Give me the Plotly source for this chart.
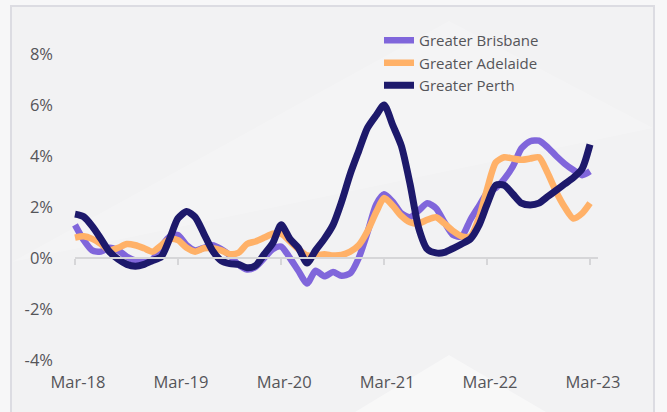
import pandas as pd
import plotly.graph_objects as go

# ---- data (monthly annual-ish growth %, Mar-18 .. Mar-23) ----
months = pd.date_range("2018-03-01", periods=61, freq="MS")

brisbane = [1.3, 0.7, 0.3, 0.25, 0.4, 0.3, 0.05, -0.1, -0.15, -0.05,
            0.45, 0.85, 0.9, 0.5, 0.3, 0.4, 0.5, 0.35, 0.1, -0.25,
            -0.45, -0.35, 0.0, 0.35, 0.45, 0.0, -0.5, -1.0, -0.5, -0.72,
            -0.55, -0.7, -0.6, 0.0, 1.0, 2.1, 2.5, 2.2, 1.75, 1.6,
            1.85, 2.15, 1.95, 1.4, 0.9, 0.85, 1.5, 2.05, 2.55, 2.75,
            3.1, 3.6, 4.3, 4.58, 4.6, 4.35, 4.0, 3.7, 3.45, 3.25, 3.4]

adelaide = [0.8, 0.85, 0.75, 0.55, 0.3, 0.4, 0.55, 0.5, 0.38, 0.25,
            0.5, 0.75, 0.7, 0.4, 0.25, 0.38, 0.38, 0.3, 0.15, 0.2,
            0.55, 0.65, 0.8, 0.95, 0.95, 0.65, 0.35, 0.1, 0.1, 0.15,
            0.1, 0.12, 0.25, 0.5, 1.05, 1.8, 2.35, 2.05, 1.65, 1.4,
            1.35, 1.5, 1.6, 1.35, 1.05, 0.85, 0.85, 1.6, 2.7, 3.75,
            3.95, 3.9, 3.85, 3.9, 3.95, 3.35, 2.6, 2.0, 1.55, 1.75, 2.15]

perth = [1.72, 1.62, 1.25, 0.75, 0.25, -0.05, -0.25, -0.32, -0.25, -0.1,
         0.05, 0.8, 1.55, 1.82, 1.6, 0.95, 0.3, -0.1, -0.22, -0.25,
         -0.38, -0.3, 0.15, 0.6, 1.3, 0.75, 0.4, -0.2, 0.3, 0.75,
         1.3, 2.2, 3.3, 4.2, 5.1, 5.6, 6.0, 5.2, 4.4, 2.9,
         1.2, 0.35, 0.2, 0.22, 0.38, 0.55, 0.75, 1.3, 2.1, 2.85,
         2.85, 2.5, 2.15, 2.08, 2.15, 2.4, 2.65, 2.9, 3.15, 3.5, 4.45]

series_names = ["Greater Brisbane", "Greater Adelaide", "Greater Perth"]

x_tick_dates = ["2018-03-01", "2019-03-01", "2020-03-01",
                "2021-03-01", "2022-03-01", "2023-03-01"]
x_tick_labels = ["Mar-18", "Mar-19", "Mar-20", "Mar-21", "Mar-22", "Mar-23"]
y_tick_vals = [-4, -2, 0, 2, 4, 6, 8]
y_tick_labels = ["-4%", "-2%", "0%", "2%", "4%", "6%", "8%"]

# ---- styling / geometry ----
colors = ["#8066db", "#ffb168", "#1d196b"]
widths = [6.5, 6.5, 7]
FONT = "Open Sans"
TXT = "#555559"

W, H = 667, 412
L, R = 60, 615          # plot area pixel edges
T, B = 40, 370
px_x0, px_x1 = 75, 590  # Mar-18 / Mar-23 pixel positions
axis_end_px = 598

t0 = pd.Timestamp(x_tick_dates[0])
t1 = pd.Timestamp(x_tick_dates[-1])
mpp = (t1 - t0) / (px_x1 - px_x0)
xr = [t0 - (px_x0 - L) * mpp, t1 + (R - px_x1) * mpp]
x2r = [t0, t0 + (axis_end_px - px_x0) * mpp]

ppu = 25.5
ymax = 8 + (54 - T) / ppu
ymin = ymax - (B - T) / ppu
zero_pos = (0 - ymin) / (ymax - ymin)


def px(xp):
    return (xp - L) / (R - L)


def py(yp):
    return (B - yp) / (B - T)


fig = go.Figure()
for name, vals, c, w in zip(series_names, [brisbane, adelaide, perth], colors, widths):
    fig.add_trace(go.Scatter(
        x=months, y=vals, name=name, mode="lines",
        line=dict(color=c, width=w, shape="spline", smoothing=0.7),
        legendgroup=name,
    ))

# dummy trace so the zero-crossing axis is drawn
fig.add_trace(go.Scatter(x=[months[0]], y=[None], xaxis="x2", yaxis="y",
                         showlegend=False, hoverinfo="skip", mode="lines"))

# background panel and faint decorative triangles
shapes = [
    dict(type="rect", xref="paper", yref="paper",
         x0=px(11), x1=px(654), y0=py(420), y1=py(6),
         fillcolor="#f2f2f3", line=dict(color="#dcdce2", width=2), layer="below"),
    dict(type="path", xref="paper", yref="paper",
         path="M {a},{b} L {c},{d} L {e},{f} Z".format(
             a=px(449), b=py(21), c=px(12), d=py(262), e=px(653), f=py(128)),
         fillcolor="rgba(255,255,255,0.2)", line=dict(width=0), layer="below"),
    dict(type="path", xref="paper", yref="paper",
         path="M {a},{b} L {c},{d} L {e},{f} Z".format(
             a=px(449), b=py(355), c=px(355), d=py(412), e=px(546), f=py(412)),
         fillcolor="rgba(255,255,255,0.45)", line=dict(width=0), layer="below"),
]

fig.update_layout(
    width=W, height=H,
    margin=dict(l=L, r=W - R, t=T, b=H - B),
    paper_bgcolor="#f7f7f8",
    plot_bgcolor="rgba(0,0,0,0)",
    font=dict(family=FONT, color=TXT),
    shapes=shapes,
    showlegend=True,
    legend=dict(
        x=px(379), xanchor="left",
        y=py(24), yanchor="top",
        bgcolor="rgba(0,0,0,0)",
        font=dict(size=15, color=TXT, family=FONT),
        traceorder="grouped", tracegroupgap=0,
        itemclick=False,
    ),
    xaxis=dict(
        type="date", range=xr,
        showgrid=False, zeroline=False, showline=False, ticks="",
        tickmode="array", tickvals=x_tick_dates, ticktext=x_tick_labels,
        tickfont=dict(size=16.5, color=TXT), ticklabelshift=3,
    ),
    xaxis2=dict(
        type="date", range=x2r,
        domain=[px(px_x0), px(axis_end_px)],
        anchor="free", position=zero_pos, side="bottom",
        showgrid=False, zeroline=False,
        showline=True, linecolor="#d6d6d8", linewidth=2,
        ticks="outside", ticklen=6, tickwidth=2, tickcolor="#d6d6d8",
        tickmode="array", tickvals=x_tick_dates, showticklabels=False,
        layer="below traces",
    ),
    yaxis=dict(
        range=[ymin, ymax],
        showgrid=False, zeroline=False, showline=False, ticks="",
        tickmode="array", tickvals=y_tick_vals, ticktext=y_tick_labels,
        tickfont=dict(size=16.5, color=TXT), ticklabelstandoff=6,
    ),
)

fig.write_html("out.html", config={"displayModeBar": False},
               post_script="document.body.style.margin='0px';document.body.style.overflow='hidden';")
